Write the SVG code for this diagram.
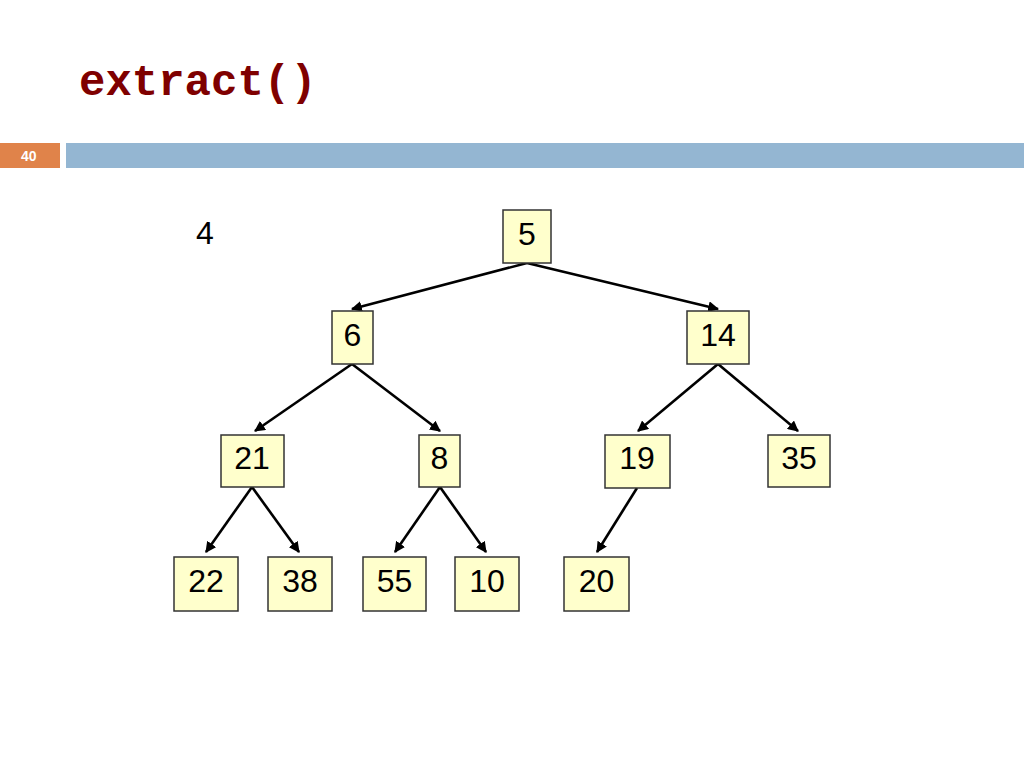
<svg xmlns="http://www.w3.org/2000/svg" width="1024" height="768" viewBox="0 0 1024 768">
<defs>
<marker id="arr" viewBox="0 0 10 10" refX="9" refY="5" markerWidth="4.2" markerHeight="4.2" orient="auto" markerUnits="strokeWidth">
<path d="M0,0 L10,5 L0,10 Z" fill="#000"/>
</marker>
<style>
.box{fill:#FFFFCC;stroke:#333;stroke-width:1.5}
.lbl{font-family:"Liberation Sans",Arial,sans-serif;font-size:32px;fill:#000;text-anchor:middle}
.edge{stroke:#000;stroke-width:2.6;fill:none;marker-end:url(#arr)}
</style>
</defs>
<rect width="1024" height="768" fill="#fff"/>
<text x="79" y="95" font-family="'Liberation Mono','Courier New',monospace" font-weight="bold" font-size="44" fill="#7F0000">extract()</text>
<rect x="0" y="143" width="60" height="25" fill="#E0834A"/>
<rect x="66" y="143" width="958" height="25" fill="#94B6D2"/>
<text x="21" y="161" font-family="'Liberation Sans',Arial,sans-serif" font-weight="bold" font-size="14" fill="#fff">40</text>
<text x="205" y="244" class="lbl">4</text>
<g id="connectors">
<line class="edge" x1="527" y1="263" x2="352" y2="309"/>
<line class="edge" x1="527" y1="263" x2="718" y2="309"/>
<line class="edge" x1="352" y1="364" x2="255" y2="431"/>
<line class="edge" x1="352" y1="364" x2="440" y2="431"/>
<line class="edge" x1="718" y1="364" x2="638" y2="431"/>
<line class="edge" x1="718" y1="364" x2="798" y2="431"/>
<line class="edge" x1="252" y1="487" x2="206" y2="552"/>
<line class="edge" x1="252" y1="487" x2="299" y2="552"/>
<line class="edge" x1="440" y1="487" x2="395" y2="552"/>
<line class="edge" x1="440" y1="487" x2="486" y2="552"/>
<line class="edge" x1="637" y1="488" x2="597" y2="552"/>
</g>
<g id="n5"><rect class="box" x="503" y="210" width="48" height="53"/><text class="lbl" x="527" y="245">5</text></g>
<g id="n6"><rect class="box" x="332" y="311" width="41" height="53"/><text class="lbl" x="352.5" y="346">6</text></g>
<g id="n14"><rect class="box" x="687" y="311" width="62" height="53"/><text class="lbl" x="718" y="346">14</text></g>
<g id="n21"><rect class="box" x="221" y="435" width="63" height="52"/><text class="lbl" x="252" y="469">21</text></g>
<g id="n8"><rect class="box" x="419" y="435" width="41" height="52"/><text class="lbl" x="439.5" y="469">8</text></g>
<g id="n19"><rect class="box" x="605" y="435" width="65" height="53"/><text class="lbl" x="637" y="469">19</text></g>
<g id="n35"><rect class="box" x="768" y="435" width="62" height="52"/><text class="lbl" x="799" y="469">35</text></g>
<g id="n22"><rect class="box" x="174" y="557" width="64" height="54"/><text class="lbl" x="206" y="592">22</text></g>
<g id="n38"><rect class="box" x="268" y="557" width="64" height="54"/><text class="lbl" x="300" y="592">38</text></g>
<g id="n55"><rect class="box" x="363" y="557" width="63" height="54"/><text class="lbl" x="394.5" y="592">55</text></g>
<g id="n10"><rect class="box" x="455" y="557" width="64" height="54"/><text class="lbl" x="487" y="592">10</text></g>
<g id="n20"><rect class="box" x="564" y="557" width="65" height="54"/><text class="lbl" x="596.5" y="592">20</text></g>
</svg>
